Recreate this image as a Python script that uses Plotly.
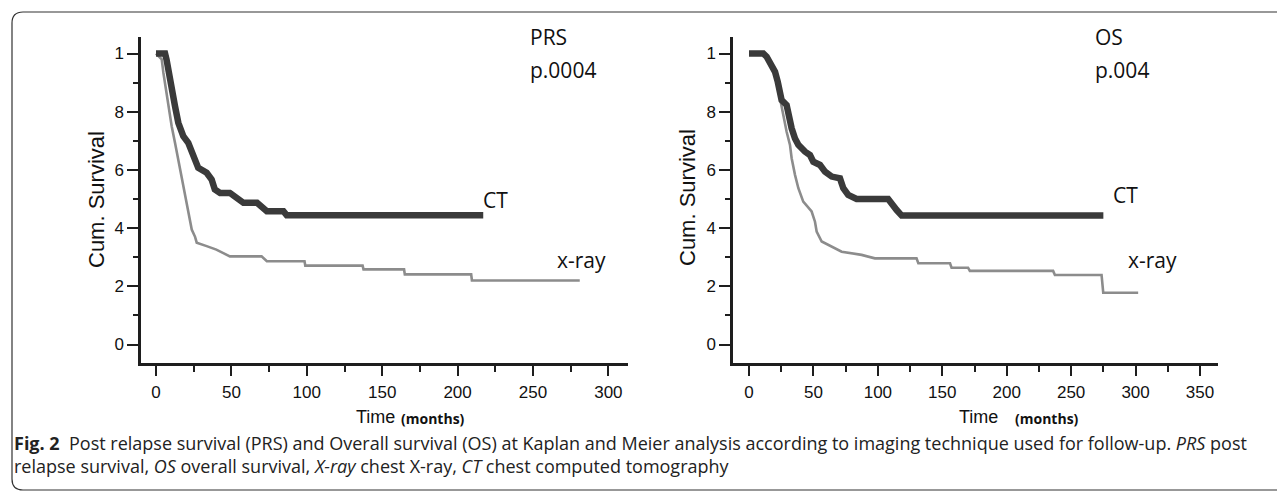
import plotly.graph_objects as go

# the page adds an 8px body margin, so the figure is 8px smaller and positions are shifted
OFF = 8
W, H = 1285 - OFF, 492 - OFF

# Kaplan-Meier curves: vertices (months, cumulative survival)
prs_ct_t = [0, 6, 7, 8.9, 10.4, 12.6, 14.8, 18.1, 21.4, 24.7, 28, 33.6, 36.9, 39,
            42.5, 49, 53.5, 58, 67, 70, 73.5, 84.5, 86.7, 217]
prs_ct_s = [1.0, 1.0, 0.979, 0.933, 0.876, 0.819, 0.762, 0.716, 0.693, 0.647, 0.607,
            0.59, 0.567, 0.533, 0.521, 0.521, 0.504, 0.487, 0.487, 0.47, 0.458, 0.458,
            0.444, 0.444]

prs_xr_t = [0, 3.8, 4.9, 6.6, 8.2, 10.4, 12.6, 14.8, 17, 19.2, 21.4, 23.7, 25.9, 27,
            33.6, 40, 49, 70, 73.5, 98.5, 99, 137, 137.6, 164.5, 165, 209, 209.5, 281]
prs_xr_s = [1.0, 0.98, 0.934, 0.876, 0.819, 0.75, 0.693, 0.636, 0.578, 0.521, 0.453,
            0.395, 0.37, 0.35, 0.338, 0.326, 0.303, 0.303, 0.286, 0.286, 0.271, 0.271,
            0.258, 0.258, 0.241, 0.241, 0.22, 0.22]

os_ct_t = [0, 11.1, 13.7, 17.6, 20.2, 22.3, 23.5, 25.3, 29.2, 31, 33.1, 35.7, 38.3,
           43.4, 47.3, 49.9, 55.1, 59, 64.2, 70.6, 73.2, 77, 83.5, 108, 110.7, 114.6,
           118.5, 275]
os_ct_s = [1.0, 1.0, 0.989, 0.96, 0.937, 0.903, 0.869, 0.84, 0.823, 0.783, 0.743,
           0.708, 0.686, 0.663, 0.651, 0.628, 0.617, 0.594, 0.577, 0.571, 0.537, 0.514,
           0.5, 0.5, 0.48, 0.462, 0.443, 0.443]

os_xr_t = [0, 11.1, 13.7, 17.6, 21.5, 24, 26.6, 29.2, 31.8, 33.1, 35.7, 38.3, 42.1,
           48.6, 51.2, 52.5, 56.4, 64.2, 71.9, 87.4, 97.7, 130, 131.4, 156, 157.2, 170,
           171.4, 236, 237.4, 273.6, 274.9, 302]
os_xr_s = [1.0, 1.0, 0.989, 0.96, 0.903, 0.846, 0.789, 0.731, 0.686, 0.64, 0.583,
           0.537, 0.491, 0.457, 0.422, 0.388, 0.354, 0.336, 0.319, 0.308, 0.296, 0.296,
           0.279, 0.279, 0.264, 0.264, 0.253, 0.253, 0.239, 0.239, 0.178, 0.178]

y_tickvals = [0, 0.2, 0.4, 0.6, 0.8, 1.0]
y_ticktext = ["0", "2", "4", "6", "8", "1"]
prs_xticks = [0, 50, 100, 150, 200, 250, 300]
os_xticks = [0, 50, 100, 150, 200, 250, 300, 350]

CT_COLOR = "#3a3a3a"
XR_COLOR = "#8c8c8c"
AX_COLOR = "#1e1e1e"
ARIAL = "Liberation Sans, Arial, sans-serif"
OPEN = "Open Sans, sans-serif"
TICK_FONT = dict(family=ARIAL, size=17, color="#111")
LABEL_FONT = dict(family=OPEN, size=21, color="#111")


def fx(x):
    return (x - OFF) / W


def fy(y):
    return 1 - (y - OFF) / H


fig = go.Figure()
for t, s, ax, color, width in [
    (prs_xr_t, prs_xr_s, "x", XR_COLOR, 2.6),
    (prs_ct_t, prs_ct_s, "x", CT_COLOR, 6.5),
    (os_xr_t, os_xr_s, "x2", XR_COLOR, 2.6),
    (os_ct_t, os_ct_s, "x2", CT_COLOR, 6.5),
]:
    fig.add_trace(go.Scatter(
        x=t, y=s, xaxis=ax, yaxis="y" if ax == "x" else "y2",
        mode="lines", line=dict(color=color, width=width),
        showlegend=False, hoverinfo="skip",
    ))

_axis = dict(
    showline=True, linecolor=AX_COLOR, linewidth=2.5, showgrid=False, zeroline=False,
    ticks="outside", tickcolor=AX_COLOR, tickwidth=2, tickfont=TICK_FONT,
)
_xminor = dict(tick0=0, dtick=25, ticks="outside", ticklen=6, tickwidth=2, tickcolor=AX_COLOR)
_yminor = dict(tick0=0, dtick=0.1, ticks="outside", ticklen=5, tickwidth=2, tickcolor=AX_COLOR)

y_dom = [fy(363), fy(37)]
y_rng = [-18.5 / 291, 1 + 16.5 / 291]

fig.update_layout(
    width=W, height=H, margin=dict(l=0, r=0, t=0, b=0),
    plot_bgcolor="white", paper_bgcolor="white",
    xaxis=dict(domain=[fx(141), fx(628)], range=[-15 / 1.508, 472 / 1.508],
               tickvals=prs_xticks, ticklen=10, ticklabelstandoff=2,
               minor=_xminor, **_axis),
    yaxis=dict(domain=y_dom, range=y_rng, tickvals=y_tickvals, ticktext=y_ticktext,
               ticklen=11, ticklabelstandoff=0, minor=_yminor, **_axis),
    xaxis2=dict(domain=[fx(733), fx(1218)], range=[-16 / 1.2886, 469 / 1.2886],
                tickvals=os_xticks, ticklen=10, ticklabelstandoff=2,
                minor=_xminor, anchor="y2", **_axis),
    yaxis2=dict(domain=y_dom, range=y_rng, tickvals=y_tickvals, ticktext=y_ticktext,
                ticklen=11, ticklabelstandoff=0, anchor="x2", minor=_yminor, **_axis),
)


def note(text, x, y, font, xanchor="left", angle=0):
    fig.add_annotation(text=text, x=fx(x), y=fy(y), xref="paper", yref="paper",
                       xanchor=xanchor, yanchor="middle", showarrow=False,
                       font=font, textangle=angle, align="left")


# in-plot labels
for text, x, y in [("PRS", 528, 37), ("p.0004", 528, 70), ("CT", 481, 200), ("x-ray", 555, 260),
                   ("OS", 1093, 37), ("p.004", 1093, 70), ("CT", 1111, 195), ("x-ray", 1126, 260)]:
    note(text, x, y, LABEL_FONT)

ytitle_font = dict(family=ARIAL, size=22, color="#111")
note("Cum. Survival", 96, 200, ytitle_font, xanchor="center", angle=-90)
note("Cum. Survival", 687, 197, ytitle_font, xanchor="center", angle=-90)

time_font = dict(family=ARIAL, size=18, color="#111")
months_font = dict(family=OPEN, size=14, color="#111")
note("Time", 397, 417, time_font, xanchor="right")
note("<b>(months)</b>", 399, 418, months_font)
note("Time", 1000, 417, time_font, xanchor="right")
note("<b>(months)</b>", 1013, 418, months_font)

cap_font = dict(family=OPEN, size=18, color="#222")
note("<b>Fig. 2</b>  Post relapse survival (PRS) and Overall survival (OS) at Kaplan and Meier "
     "analysis according to imaging technique used for follow-up. <i>PRS</i> post<br>"
     "relapse survival, <i>OS</i> overall survival, <i>X-ray</i> chest X-ray, "
     "<i>CT</i> chest computed tomography",
     12, 454, cap_font)

# rounded frame around the figure panel
pts = [(1285, 12), (23, 12), (12, 12), (12, 23), (12, 479), (12, 490), (23, 490), (1285, 490)]
p = [(fx(x), fy(y)) for x, y in pts]
path = (f"M {p[0][0]},{p[0][1]} L {p[1][0]},{p[1][1]} Q {p[2][0]},{p[2][1]} {p[3][0]},{p[3][1]} "
        f"L {p[4][0]},{p[4][1]} Q {p[5][0]},{p[5][1]} {p[6][0]},{p[6][1]} L {p[7][0]},{p[7][1]}")
fig.add_shape(type="path", path=path, xref="paper", yref="paper",
              line=dict(color="#333", width=1.2))

fig.write_html("out.html")
